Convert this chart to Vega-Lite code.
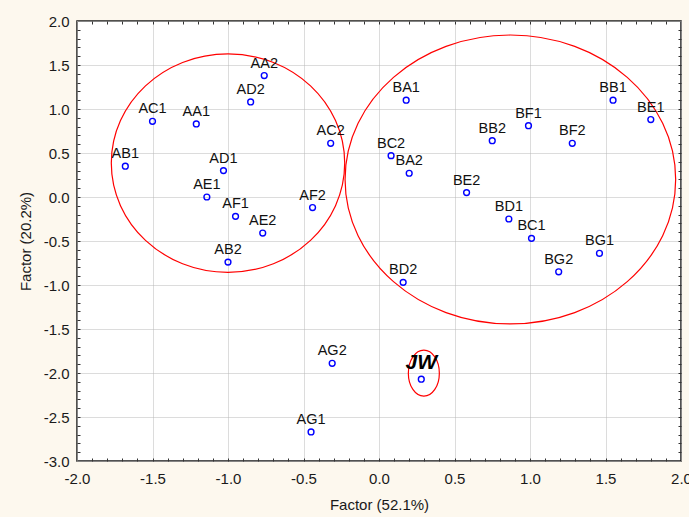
{
  "$schema": "https://vega.github.io/schema/vega-lite/v6.json",
  "width": 604,
  "height": 440,
  "autosize": {"type": "none"},
  "padding": {"left": 77, "top": 21, "right": 8, "bottom": 56},
  "background": "#fdf8ee",
  "config": {
    "view": {"fill": "#ffffff", "stroke": "#1a1a1a", "strokeWidth": 1.5},
    "font": "Liberation Sans"
  },
  "datasets": {
    "pts": [
      {"label": "AA2", "x": -0.76, "y": 1.38},
      {"label": "AD2", "x": -0.85, "y": 1.08},
      {"label": "AC1", "x": -1.50, "y": 0.86},
      {"label": "AA1", "x": -1.21, "y": 0.83},
      {"label": "AC2", "x": -0.32, "y": 0.61},
      {"label": "AB1", "x": -1.68, "y": 0.35},
      {"label": "AD1", "x": -1.03, "y": 0.30},
      {"label": "AE1", "x": -1.14, "y": 0.00},
      {"label": "AF2", "x": -0.44, "y": -0.12},
      {"label": "AF1", "x": -0.95, "y": -0.22},
      {"label": "AE2", "x": -0.77, "y": -0.41},
      {"label": "AB2", "x": -1.00, "y": -0.74},
      {"label": "AG2", "x": -0.31, "y": -1.89},
      {"label": "AG1", "x": -0.45, "y": -2.67},
      {"label": "BA1", "x": 0.18, "y": 1.10},
      {"label": "BB1", "x": 1.55, "y": 1.10},
      {"label": "BE1", "x": 1.80, "y": 0.88},
      {"label": "BF1", "x": 0.99, "y": 0.81},
      {"label": "BB2", "x": 0.75, "y": 0.64},
      {"label": "BF2", "x": 1.28, "y": 0.61},
      {"label": "BC2", "x": 0.08, "y": 0.47},
      {"label": "BA2", "x": 0.20, "y": 0.27},
      {"label": "BE2", "x": 0.58, "y": 0.05},
      {"label": "BD1", "x": 0.86, "y": -0.25},
      {"label": "BC1", "x": 1.01, "y": -0.47},
      {"label": "BG1", "x": 1.46, "y": -0.64},
      {"label": "BG2", "x": 1.19, "y": -0.85},
      {"label": "BD2", "x": 0.16, "y": -0.97},
      {"label": "JW", "x": 0.28, "y": -2.07}
    ],
    "ellipses": [
      {"name": "A", "cx": -1.0, "cy": 0.385},
      {"name": "B", "cx": 0.87, "cy": 0.199},
      {"name": "JW", "cx": 0.297, "cy": -2.002}
    ]
  },
  "resolve": {"axis": {"x": "independent", "y": "independent"}},
  "layer": [
    {
      "data": {"name": "ellipses"},
      "transform": [{"filter": "datum.name === 'A'"}],
      "mark": {"type": "point", "shape": "M -1 0 A 1 0.936 0 1 1 1 0 A 1 0.936 0 1 1 -1 0 Z", "size": 54476, "filled": false, "stroke": "#ff0000", "strokeWidth": 1.2, "opacity": 1},
      "encoding": {
        "x": {"field": "cx", "type": "quantitative", "scale": {"domain": [-2, 2], "nice": false, "zero": false},
          "axis": {"orient": "bottom", "title": "Factor (52.1%)", "values": [-2, -1.5, -1, -0.5, 0, 0.5, 1, 1.5, 2],
            "labelExpr": "replace(format(datum.value, '.1f'), '\u2212', '-')", "ticks": false, "domain": false,
            "grid": true, "gridColor": "#b8b8b8", "gridDash": [1, 1], "gridWidth": 1,
            "labelFontSize": 15, "labelColor": "#1a1a1a", "labelPadding": 10, "labelFlush": false,
            "titleFontSize": 15, "titleFontWeight": "normal", "titleColor": "#1a1a1a", "titlePadding": 11}},
        "y": {"field": "cy", "type": "quantitative", "scale": {"domain": [-3, 2], "nice": false, "zero": false},
          "axis": {"orient": "left", "title": "Factor (20.2%)", "values": [-3, -2.5, -2, -1.5, -1, -0.5, 0, 0.5, 1, 1.5, 2],
            "labelExpr": "replace(format(datum.value, '.1f'), '\u2212', '-')", "ticks": false, "domain": false,
            "grid": true, "gridColor": "#b8b8b8", "gridDash": [1, 1], "gridWidth": 1,
            "labelFontSize": 15, "labelColor": "#1a1a1a", "labelPadding": 8, "labelFlush": false,
            "titleFontSize": 15, "titleFontWeight": "normal", "titleColor": "#1a1a1a", "titlePadding": 10}}
      }
    },
    {
      "data": {"name": "ellipses"},
      "transform": [{"filter": "datum.name === 'B'"}],
      "mark": {"type": "point", "shape": "M -1 0 A 1 0.874 0 1 1 1 0 A 1 0.874 0 1 1 -1 0 Z", "size": 109296, "filled": false, "stroke": "#ff0000", "strokeWidth": 1.2, "opacity": 1},
      "encoding": {
        "x": {"field": "cx", "type": "quantitative",
          "axis": {"orient": "top", "title": null, "labels": false, "domain": false, "grid": false,
            "values": [-1.9, -1.8, -1.7, -1.6, -1.5, -1.4, -1.3, -1.2, -1.1, -1, -0.9, -0.8, -0.7, -0.6, -0.5, -0.4, -0.3, -0.2, -0.1, 0, 0.1, 0.2, 0.3, 0.4, 0.5, 0.6, 0.7, 0.8, 0.9, 1, 1.1, 1.2, 1.3, 1.4, 1.5, 1.6, 1.7, 1.8, 1.9],
            "ticks": true, "tickSize": -3, "tickColor": "#333333", "tickWidth": 1}},
        "y": {"field": "cy", "type": "quantitative",
          "axis": {"orient": "right", "title": null, "labels": false, "domain": false, "grid": false,
            "values": [-2.9, -2.8, -2.7, -2.6, -2.5, -2.4, -2.3, -2.2, -2.1, -2, -1.9, -1.8, -1.7, -1.6, -1.5, -1.4, -1.3, -1.2, -1.1, -1, -0.9, -0.8, -0.7, -0.6, -0.5, -0.4, -0.3, -0.2, -0.1, 0, 0.1, 0.2, 0.3, 0.4, 0.5, 0.6, 0.7, 0.8, 0.9, 1, 1.1, 1.2, 1.3, 1.4, 1.5, 1.6, 1.7, 1.8, 1.9],
            "ticks": true, "tickSize": -3, "tickColor": "#333333", "tickWidth": 1}}
      }
    },
    {
      "data": {"name": "ellipses"},
      "transform": [{"filter": "datum.name === 'JW'"}],
      "mark": {"type": "point", "shape": "M -0.674 0 A 0.674 1 0 1 1 0.674 0 A 0.674 1 0 1 1 -0.674 0 Z", "size": 2116, "filled": false, "stroke": "#ff0000", "strokeWidth": 1.2, "opacity": 1},
      "encoding": {
        "x": {"field": "cx", "type": "quantitative",
          "axis": {"orient": "bottom", "title": null, "labels": false, "domain": false, "grid": false,
            "values": [-1.9, -1.8, -1.7, -1.6, -1.5, -1.4, -1.3, -1.2, -1.1, -1, -0.9, -0.8, -0.7, -0.6, -0.5, -0.4, -0.3, -0.2, -0.1, 0, 0.1, 0.2, 0.3, 0.4, 0.5, 0.6, 0.7, 0.8, 0.9, 1, 1.1, 1.2, 1.3, 1.4, 1.5, 1.6, 1.7, 1.8, 1.9],
            "ticks": true, "tickSize": -3, "tickColor": "#333333", "tickWidth": 1}},
        "y": {"field": "cy", "type": "quantitative",
          "axis": {"orient": "left", "title": null, "labels": false, "domain": false, "grid": false,
            "values": [-2.9, -2.8, -2.7, -2.6, -2.5, -2.4, -2.3, -2.2, -2.1, -2, -1.9, -1.8, -1.7, -1.6, -1.5, -1.4, -1.3, -1.2, -1.1, -1, -0.9, -0.8, -0.7, -0.6, -0.5, -0.4, -0.3, -0.2, -0.1, 0, 0.1, 0.2, 0.3, 0.4, 0.5, 0.6, 0.7, 0.8, 0.9, 1, 1.1, 1.2, 1.3, 1.4, 1.5, 1.6, 1.7, 1.8, 1.9],
            "ticks": true, "tickSize": -3, "tickColor": "#333333", "tickWidth": 1}}
      }
    },
    {
      "data": {"name": "pts"},
      "mark": {"type": "point", "shape": "circle", "size": 34, "filled": false, "stroke": "#0000ff", "strokeWidth": 1.4, "opacity": 1},
      "encoding": {
        "x": {"field": "x", "type": "quantitative", "axis": null},
        "y": {"field": "y", "type": "quantitative", "axis": null}
      }
    },
    {
      "data": {"name": "pts"},
      "transform": [{"filter": "datum.label !== 'JW'"}],
      "mark": {"type": "text", "align": "center", "baseline": "alphabetic", "dy": -8, "fontSize": 14.5, "color": "#111111"},
      "encoding": {
        "x": {"field": "x", "type": "quantitative", "axis": null},
        "y": {"field": "y", "type": "quantitative", "axis": null},
        "text": {"field": "label", "type": "nominal"}
      }
    },
    {
      "data": {"name": "pts"},
      "transform": [{"filter": "datum.label === 'JW'"}],
      "mark": {"type": "text", "align": "center", "baseline": "alphabetic", "dy": -10, "fontSize": 21, "fontWeight": "bold", "fontStyle": "italic", "color": "#000000"},
      "encoding": {
        "x": {"field": "x", "type": "quantitative", "axis": null},
        "y": {"field": "y", "type": "quantitative", "axis": null},
        "text": {"field": "label", "type": "nominal"}
      }
    }
  ]
}
